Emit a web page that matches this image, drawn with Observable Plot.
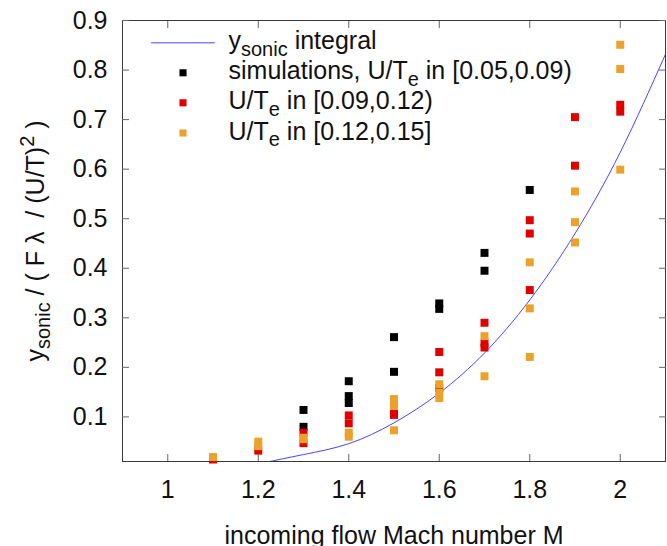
<!DOCTYPE html>
<html><head><meta charset="utf-8">
<script src="https://cdn.jsdelivr.net/npm/d3@7"></script>
<script src="https://cdn.jsdelivr.net/npm/@observablehq/plot@0.6"></script>
<style>body{margin:0;background:#fff} svg text{white-space:pre}</style>
</head><body><div id="chart"></div>
<script>
// ---- data ----
const xTicks = [1, 1.2, 1.4, 1.6, 1.8, 2];
const yTicks = [0.1, 0.2, 0.3, 0.4, 0.5, 0.6, 0.7, 0.8, 0.9];

// simulations, U/Te in [0.05,0.09)  (black)
const blackM = [1.3, 1.3, 1.4, 1.4, 1.4, 1.5, 1.5, 1.6, 1.6, 1.7, 1.7, 1.8];
const blackY = [0.114, 0.080, 0.172, 0.142, 0.128, 0.261, 0.191, 0.329, 0.318, 0.431, 0.395, 0.558];

// U/Te in [0.09,0.12)  (red)
const redM = [1.1, 1.2, 1.3, 1.3, 1.4, 1.4, 1.5, 1.5, 1.6, 1.6, 1.6, 1.7, 1.7, 1.7, 1.8, 1.8, 1.8, 1.9, 1.9, 2.0, 2.0];
const redY = [0.014, 0.032, 0.068, 0.047, 0.103, 0.087, 0.109, 0.104, 0.231, 0.190, 0.158, 0.290, 0.249, 0.240, 0.497, 0.470, 0.356, 0.705, 0.607, 0.730, 0.716];

// U/Te in [0.12,0.15]  (orange)
const orangeM = [1.1, 1.2, 1.2, 1.3, 1.3, 1.4, 1.4, 1.5, 1.5, 1.5, 1.6, 1.6, 1.6, 1.7, 1.7, 1.8, 1.8, 1.8, 1.9, 1.9, 1.9, 2.0, 2.0, 2.0];
const orangeY = [0.019, 0.050, 0.041, 0.058, 0.055, 0.068, 0.060, 0.136, 0.122, 0.073, 0.166, 0.149, 0.138, 0.263, 0.182, 0.412, 0.319, 0.221, 0.555, 0.493, 0.452, 0.851, 0.802, 0.599];

// y_sonic integral curve
const curveM = [1.21, 1.3, 1.4, 1.5, 1.6, 1.7, 1.8, 1.9, 2.0, 2.1];
const curveY = [0.007, 0.024, 0.046, 0.088, 0.148, 0.229, 0.336, 0.470, 0.634, 0.832];

const legendLabels = ["y_{sonic} integral", "simulations, U/T_{e} in [0.05,0.09)", "U/T_{e} in [0.09,0.12)", "U/T_{e} in [0.12,0.15]"];
const xLabel = "incoming flow Mach number M";
const yLabel = "y_{sonic} / ( F λ  / (U/T)^{2} )";

const colors = {curve: "#4646ff", black: "#000000", red: "#e00000", orange: "#eca22a"};

const toRows = (M, Y) => M.map((m, i) => ({m, v: Y[i]}));
const black = toRows(blackM, blackY);
const red = toRows(redM, redY);
const orange = toRows(orangeM, orangeY);
const curve = toRows(curveM, curveY);

const FS = 25;
const legendRow = [22.3, 52.3, 82.3, 112.5];
const legendColors = [colors.curve, colors.black, colors.red, colors.orange];

const dash = {draw(context, l) { context.moveTo(0, 0); context.lineTo(l, 0); }};

const marks = [
  Plot.frame({stroke: "#3a3a3a", strokeWidth: 1}),
  // inward ticks on all four sides
  Plot.axisX(xTicks, {anchor: "bottom", tickSize: 7, dy: -7, fill: "none", stroke: "#666", label: null}),
  Plot.axisX(xTicks, {anchor: "top", tickSize: 7, dy: 7, fill: "none", stroke: "#666", label: null}),
  Plot.axisY(yTicks, {anchor: "left", tickSize: 7, dx: 7, fill: "none", stroke: "#666", label: null}),
  Plot.axisY(yTicks, {anchor: "right", tickSize: 7, dx: -7, fill: "none", stroke: "#666", label: null}),
  // tick labels
  Plot.axisX(xTicks, {anchor: "bottom", tickSize: 0, tickPadding: 19, label: null, fontSize: FS, fill: "#111", tickFormat: d => String(d)}),
  Plot.axisY(yTicks, {anchor: "left", tickSize: 0, tickPadding: 15, label: null, fontSize: FS, fill: "#111", tickFormat: d => d.toFixed(1)}),
  // axis titles
  Plot.text([xLabel], {frameAnchor: "bottom", dy: 82, lineAnchor: "bottom", textAnchor: "middle", fontSize: FS, fill: "#111", text: d => d}),
  Plot.text([yLabel], {frameAnchor: "left", dx: -79, rotate: -90, lineAnchor: "bottom", textAnchor: "middle", fontSize: FS, fill: "#111", text: d => d}),
  // curve
  Plot.line(curve, {x: "m", y: "v", curve: "natural", stroke: colors.curve, strokeWidth: 1, clip: true}),
  // points
  Plot.dot(black, {x: "m", y: "v", symbol: "square", r: 4.5, fill: colors.black}),
  Plot.dot(red, {x: "m", y: "v", symbol: "square", r: 4.5, fill: colors.red}),
  Plot.dot(orange, {x: "m", y: "v", symbol: "square", r: 4.5, fill: colors.orange}),
  // legend
  Plot.vector([0], {frameAnchor: "top-left", dx: 29, dy: legendRow[0], length: 63, rotate: 0, anchor: "start", shape: dash, stroke: colors.curve, strokeWidth: 1}),
  ...[1, 2, 3].map(i => Plot.dot([0], {frameAnchor: "top-left", dx: 60.5, dy: legendRow[i], symbol: "square", r: 4, fill: legendColors[i]})),
  ...legendLabels.map((t, i) => Plot.text([t], {frameAnchor: "top-left", dx: 106, dy: legendRow[i] + 6.5, lineAnchor: "bottom", textAnchor: "start", fontSize: FS, fill: "#111", text: d => d}))
];

const svg = Plot.plot({
  width: 667, height: 546,
  marginLeft: 122, marginRight: 2, marginTop: 20, marginBottom: 85,
  x: {domain: [0.9, 2.1]},
  y: {domain: [0.01, 0.9]},
  style: {fontFamily: "'Liberation Sans', Arial, Helvetica, sans-serif", fontSize: FS + "px", background: "#fff", color: "#111"},
  marks
});

// render _{...} and ^{...} as sub/superscripts
d3.select(svg).selectAll("text").each(function () {
  const s = this.textContent;
  if (!/[_^]\{/.test(s)) return;
  while (this.firstChild) this.removeChild(this.firstChild);
  const re = /([_^])\{([^}]*)\}/g;
  let last = 0, m, pending = 0;
  const add = (txt, shift, small) => {
    const t = document.createElementNS("http://www.w3.org/2000/svg", "tspan");
    t.textContent = txt;
    const dy = shift - pending;
    if (dy) t.setAttribute("dy", dy);
    pending = shift;
    if (small) t.setAttribute("font-size", (FS * 0.8) + "px");
    this.appendChild(t);
  };
  while ((m = re.exec(s))) {
    if (m.index > last) add(s.slice(last, m.index), 0, false);
    add(m[2], m[1] === "_" ? 6.5 : -10, true);
    last = re.lastIndex;
  }
  if (last < s.length) add(s.slice(last), 0, false);
});

document.getElementById("chart").appendChild(svg);
</script>
</body></html>
